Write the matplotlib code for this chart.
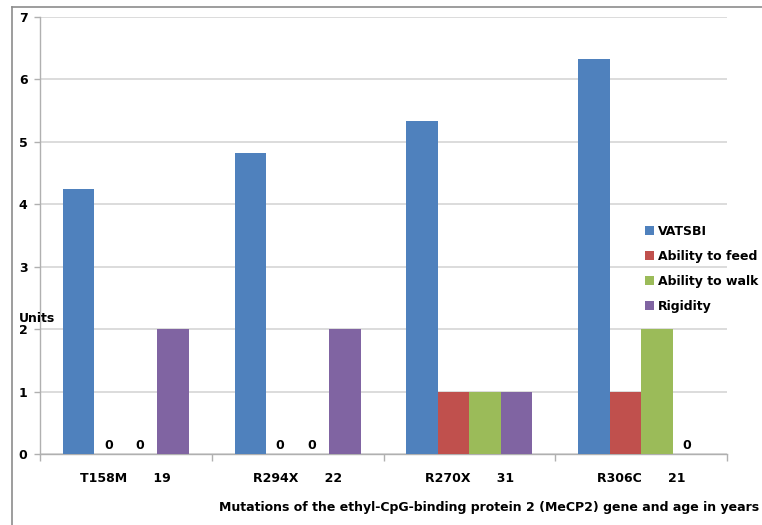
import matplotlib
matplotlib.use('Agg')
import matplotlib.pyplot as plt
import numpy as np
from matplotlib.patches import Patch
from matplotlib.lines import Line2D

plt.rcParams['font.family'] = ['DejaVu Sans']
plt.rcParams['font.weight'] = 'bold'

mutations = ['T158M', 'R294X', 'R270X', 'R306C']
ages = [19, 22, 31, 21]
series = ['VATSBI', 'Ability to feed', 'Ability to walk', 'Rigidity']
vatsbi = [4.25, 4.82, 5.33, 6.33]
feed = [0, 0, 1, 1]
walk = [0, 0, 1, 2]
rigidity = [2, 2, 1, 0]
colors = ['#4F81BD', '#C0504D', '#9BBB59', '#8064A2']

fs = 9

fig = plt.figure(figsize=(7.62, 5.25), dpi=100)
ax = fig.add_axes([40 / 762, 1 - 454 / 525, 687 / 762, 437 / 525])

x = np.arange(len(mutations))
w = 0.1835
for i, vals in enumerate([vatsbi, feed, walk, rigidity]):
    pos = x + (i - 1.5) * w
    ax.bar(pos, vals, width=w, color=colors[i], zorder=3)
    for p, v in zip(pos, vals):
        if v == 0:
            ax.text(p - 0.01, 0.03, '0', ha='center', va='bottom', fontsize=fs,
                    fontweight='bold')

ax.set_xlim(-0.5, len(mutations) - 0.5)
ax.set_ylim(0, 7)
ax.set_yticks(range(8))
ax.yaxis.grid(True, color='#d9d9d9', linewidth=1.3, zorder=0)
ax.set_axisbelow(True)

ax.set_xticks(x)
ax.set_xticklabels([f'{m}      {a}' for m, a in zip(mutations, ages)],
                   fontsize=fs, fontweight='bold')
ax.set_xticks(np.arange(-0.5, len(mutations)), minor=True)
ax.tick_params(axis='x', which='major', length=0, pad=13)
ax.tick_params(axis='x', which='minor', length=5, color='#b0b0b0', width=1)
ax.tick_params(axis='y', length=4, color='#b0b0b0', width=1, labelsize=fs, pad=5)
for lab in ax.get_yticklabels():
    lab.set_fontweight('bold')

for s in ['top', 'right']:
    ax.spines[s].set_visible(False)
for s in ['left', 'bottom']:
    ax.spines[s].set_color('#b0b0b0')
    ax.spines[s].set_linewidth(1)

fig.text(19 / 762, 1 - 318 / 525, 'Units', fontsize=fs, fontweight='bold',
         ha='left', va='center')
fig.text(759 / 762, 1 - 508 / 525,
         'Mutations of the ethyl-CpG-binding protein 2 (MeCP2) gene and age in years',
         fontsize=fs, fontweight='bold', ha='right', va='center')

handles = [Patch(facecolor=c, edgecolor='none') for c in colors]
fig.legend(handles, series, loc='upper left',
           bbox_to_anchor=(645 / 762, 1 - 225 / 525), frameon=False,
           fontsize=fs, labelspacing=0.95, handlelength=0.7, handleheight=0.7,
           handletextpad=0.3, borderaxespad=0, borderpad=0)

# frame around the chart area
fig.add_artist(Line2D([12 / 762, 1], [1 - 7 / 525] * 2, color='#8c8c8c', lw=1.2))
fig.add_artist(Line2D([12 / 762] * 2, [0, 1 - 7 / 525], color='#8c8c8c', lw=1.2))

fig.savefig('out.png', dpi=100)
